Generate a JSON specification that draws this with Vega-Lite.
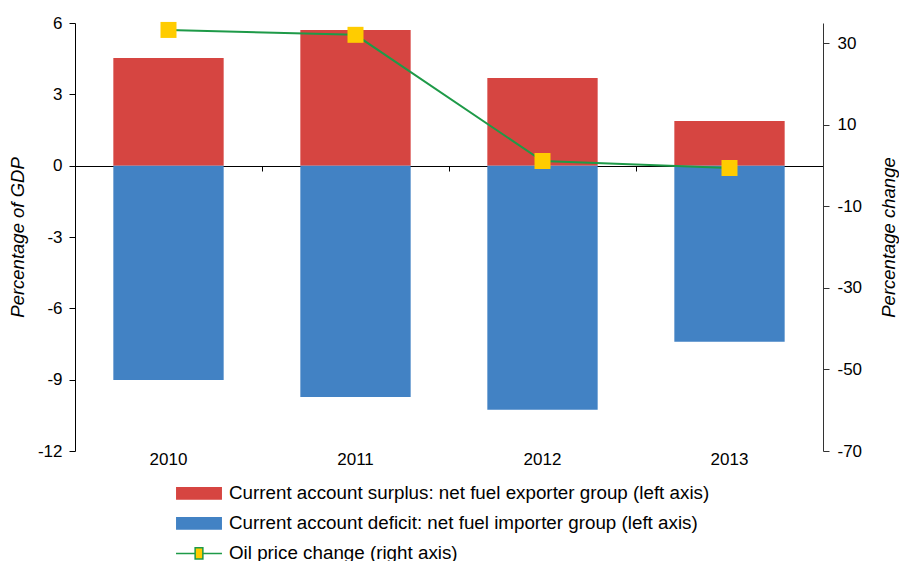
{
  "$schema": "https://vega.github.io/schema/vega-lite/v6.json",
  "width": 748,
  "height": 428,
  "padding": {"left": 8, "top": 14, "right": 0, "bottom": 0},
  "config": {
    "view": {"stroke": null},
    "font": "Liberation Sans",
    "axis": {"labelFont": "Liberation Sans", "titleFont": "Liberation Sans", "labelColor": "#000", "titleColor": "#000"}
  },
  "datasets": {
    "bars": [
      {"year": "2010", "series": "Current account surplus: net fuel exporter group (left axis)", "value": 4.53},
      {"year": "2011", "series": "Current account surplus: net fuel exporter group (left axis)", "value": 5.71},
      {"year": "2012", "series": "Current account surplus: net fuel exporter group (left axis)", "value": 3.69},
      {"year": "2013", "series": "Current account surplus: net fuel exporter group (left axis)", "value": 1.88},
      {"year": "2010", "series": "Current account deficit: net fuel importer group (left axis)", "value": -9.01},
      {"year": "2011", "series": "Current account deficit: net fuel importer group (left axis)", "value": -9.73},
      {"year": "2012", "series": "Current account deficit: net fuel importer group (left axis)", "value": -10.27},
      {"year": "2013", "series": "Current account deficit: net fuel importer group (left axis)", "value": -7.41}
    ],
    "oil": [
      {"year": "2010", "series": "Oil price change (right axis)", "change": 33.3},
      {"year": "2011", "series": "Oil price change (right axis)", "change": 32.1},
      {"year": "2012", "series": "Oil price change (right axis)", "change": 1.14},
      {"year": "2013", "series": "Oil price change (right axis)", "change": -0.57}
    ]
  },
  "layer": [
    {
      "data": {"name": "bars"},
      "mark": {"type": "bar"},
      "encoding": {
        "x": {
          "field": "year", "type": "nominal",
          "scale": {"paddingInner": 0.41, "paddingOuter": 0.205},
          "axis": {"orient": "bottom", "title": null, "domain": false, "ticks": false, "labelAngle": 0, "labelFontSize": 17, "labelPadding": 0}
        },
        "y": {
          "field": "value", "type": "quantitative", "stack": null,
          "scale": {"domain": [-12, 6], "nice": false, "zero": false},
          "axis": {"orient": "left", "values": [-12, -9, -6, -3, 0, 3, 6], "grid": false, "domainColor": "#000", "tickColor": "#000", "tickSize": 6, "labelFontSize": 17, "labelPadding": 7,
            "labelExpr": "datum.value < 0 ? '-' + abs(datum.value) : '' + datum.value",
            "title": "Percentage of GDP", "titleFontSize": 18.5, "titleFontStyle": "italic", "titleFontWeight": "normal", "titlePadding": 10}
        },
        "color": {
          "field": "series", "type": "nominal",
          "scale": {
            "domain": ["Current account surplus: net fuel exporter group (left axis)", "Current account deficit: net fuel importer group (left axis)", "Oil price change (right axis)"],
            "range": ["#D64541", "#4282C4", "#FFCC00"]
          },
          "legend": {
            "orient": "none", "legendX": 114.6, "legendY": 461, "direction": "vertical", "title": null,
            "padding": 0, "labelFontSize": 18.8, "labelFont": "Liberation Sans", "labelColor": "#000",
            "symbolSize": 161, "labelOffset": 20.6, "rowPadding": 10, "labelLimit": 700,
            "encode": {
              "symbols": {
                "update": {
                  "shape": {"signal": "datum.value === 'Oil price change (right axis)' ? 'M-3.62,0H-0.61M0.61,0H3.62M-0.61,-0.89H0.61V0.89H-0.61Z' : 'M-3.62,-1H3.62V1H-3.62Z'"},
                  "stroke": {"signal": "datum.value === 'Oil price change (right axis)' ? '#1E9A48' : 'transparent'"},
                  "strokeWidth": {"value": 1.5},
                  "opacity": {"value": 1},
                  "fillOpacity": {"value": 1}
                }
              }
            }
          }
        }
      }
    },
    {
      "data": {"name": "oil"},
      "layer": [
        {
          "mark": {"type": "line", "strokeWidth": 2, "color": "#1E9A48"},
          "encoding": {
            "x": {
              "field": "year", "type": "nominal",
              "axis": {"orient": "top", "offset": -143, "title": null, "labels": false, "domain": true, "domainColor": "#000", "ticks": true, "tickColor": "#000", "tickSize": -5, "bandPosition": 0, "tickOffset": -38.3}
            },
            "y": {
              "field": "change", "type": "quantitative",
              "scale": {"domain": [-70, 35], "nice": false, "zero": false},
              "axis": {"orient": "right", "values": [-70, -50, -30, -10, 10, 30], "grid": false, "domainColor": "#333", "tickColor": "#333", "tickSize": 6, "labelFontSize": 17, "labelPadding": 8,
                "labelExpr": "datum.value < 0 ? '-' + abs(datum.value) : '' + datum.value",
                "title": "Percentage change", "titleFontSize": 18.5, "titleFontStyle": "italic", "titleFontWeight": "normal", "titleAngle": 270, "titleBaseline": "top", "titlePadding": 18}
            }
          }
        },
        {
          "mark": {"type": "point", "shape": "square", "filled": true, "size": 256, "color": "#FFCC00", "opacity": 1},
          "encoding": {
            "x": {"field": "year", "type": "nominal"},
            "y": {"field": "change", "type": "quantitative"}
          }
        }
      ]
    }
  ],
  "resolve": {"scale": {"y": "independent"}, "axis": {"x": "independent"}}
}
